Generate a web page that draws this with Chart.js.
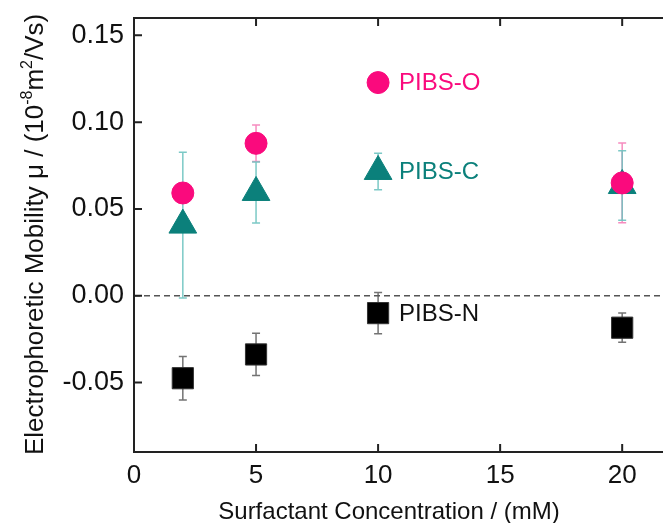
<!DOCTYPE html>
<html>
<head>
<meta charset="utf-8">
<script src="https://cdn.jsdelivr.net/npm/chart.js@4.4.1/dist/chart.umd.min.js"></script>
<style>
  html, body { margin: 0; padding: 0; background: #fff; overflow: hidden; }
  canvas { display: block; }
</style>
</head>
<body>
<canvas id="c" width="688" height="523"></canvas>
<script>
// ─── Data ─────────────────────────────────────────────────────────
const conc   = [2, 5, 10, 20];               // surfactant concentration (mM)
const pibsO  = [0.0592, 0.0878, 0.1228, 0.065];
const pibsOErr = [0.004, 0.0105, 0.003, 0.023];
const pibsC  = [0.0407, 0.0595, 0.0716, 0.0635];
const pibsCErr = [0.042, 0.0176, 0.0105, 0.020];
const pibsN  = [-0.0475, -0.0338, -0.010, -0.0184];
const pibsNErr = [0.0125, 0.0122, 0.0119, 0.0084];
const xTicks = [0, 5, 10, 15, 20];
const yTicks = [-0.05, 0.00, 0.05, 0.10, 0.15];
const seriesNames = ['PIBS-O', 'PIBS-C', 'PIBS-N'];

const FONT = '"Liberation Sans", Arial, sans-serif';
const PINK = '#fa0a7d', TEAL = '#0b807b', BLACK = '#000000';

const pts = (ys, errs) => conc.map((x, i) => ({ x, y: ys[i], e: errs[i] }));

// ─── Frame, inward ticks, zero line, error bars, labels ──────────
const decor = {
  id: 'decor',
  beforeDatasetsDraw(chart) {
    const { ctx, chartArea: a, scales: { x, y } } = chart;
    ctx.save();
    // dashed zero line
    ctx.strokeStyle = '#555';
    ctx.lineWidth = 1.5;
    ctx.setLineDash([6, 4]);
    ctx.beginPath();
    ctx.moveTo(a.left, y.getPixelForValue(0));
    ctx.lineTo(a.right, y.getPixelForValue(0));
    ctx.stroke();
    ctx.setLineDash([]);
    // error bars under markers
    chart.data.datasets.forEach(ds => {
      ctx.strokeStyle = ds.errColor;
      ctx.lineWidth = 1.5;
      ds.data.forEach(p => {
        const px = x.getPixelForValue(p.x);
        const top = y.getPixelForValue(p.y + p.e);
        const bot = y.getPixelForValue(p.y - p.e);
        ctx.beginPath();
        ctx.moveTo(px, top); ctx.lineTo(px, bot);
        ctx.moveTo(px - 4, top); ctx.lineTo(px + 4, top);
        ctx.moveTo(px - 4, bot); ctx.lineTo(px + 4, bot);
        ctx.stroke();
      });
    });
    ctx.restore();
  },
  afterDatasetsDraw(chart) {
    const { ctx, chartArea: a, scales: { x, y } } = chart;
    ctx.save();
    // frame
    ctx.strokeStyle = '#222';
    ctx.lineWidth = 2;
    ctx.strokeRect(a.left, a.top, a.right - a.left, a.bottom - a.top);
    // inward ticks on all four sides
    ctx.beginPath();
    xTicks.forEach(v => {
      const px = x.getPixelForValue(v);
      ctx.moveTo(px, a.bottom); ctx.lineTo(px, a.bottom - 8);
      ctx.moveTo(px, a.top); ctx.lineTo(px, a.top + 8);
    });
    yTicks.forEach(v => {
      const py = y.getPixelForValue(v);
      ctx.moveTo(a.left, py); ctx.lineTo(a.left + 8, py);
      ctx.moveTo(a.right, py); ctx.lineTo(a.right - 8, py);
    });
    ctx.stroke();

    // series labels next to the 10 mM point
    ctx.font = '24px ' + FONT;
    ctx.textBaseline = 'middle';
    ctx.textAlign = 'left';
    chart.data.datasets.forEach(ds => {
      const p = ds.data[2];
      ctx.fillStyle = ds.labelColor;
      ctx.fillText(ds.label, x.getPixelForValue(p.x) + 21, y.getPixelForValue(p.y) + 1);
    });

    // x axis title
    ctx.fillStyle = '#111';
    ctx.textAlign = 'center';
    ctx.textBaseline = 'alphabetic';
    ctx.fillText('Surfactant Concentration / (mM)', 389, 519);

    // y axis title with superscripts
    ctx.translate(43, 455);
    ctx.rotate(-Math.PI / 2);
    ctx.textAlign = 'left';
    const big = '26px ' + FONT, small = '16px ' + FONT;
    const parts = [
      ['Electrophoretic Mobility \u03bc / (10', big, 0],
      ['-8', small, -11],
      ['m', big, 0],
      ['2', small, -11],
      ['/Vs)', big, 0],
    ];
    let cx = 0;
    parts.forEach(([txt, f, dy]) => {
      ctx.font = f;
      ctx.fillText(txt, cx, dy);
      cx += ctx.measureText(txt).width;
    });
    ctx.restore();
  }
};

new Chart(document.getElementById('c'), {
  type: 'scatter',
  data: {
    datasets: [
      {
        label: seriesNames[0],
        data: pts(pibsO, pibsOErr),
        pointStyle: 'circle',
        pointRadius: 11,
        backgroundColor: PINK,
        borderColor: PINK,
        borderWidth: 1,
        errColor: 'rgba(245,120,180,0.85)',
        labelColor: PINK,
      },
      {
        label: seriesNames[1],
        data: pts(pibsC, pibsCErr),
        pointStyle: 'triangle',
        pointRadius: 16,
        backgroundColor: TEAL,
        borderColor: TEAL,
        borderWidth: 1,
        errColor: 'rgba(110,195,192,0.9)',
        labelColor: TEAL,
      },
      {
        label: seriesNames[2],
        data: pts(pibsN, pibsNErr),
        pointStyle: 'rect',
        pointRadius: 15,
        backgroundColor: BLACK,
        borderColor: '#333',
        borderWidth: 1,
        errColor: 'rgba(90,90,90,0.85)',
        labelColor: '#111',
      },
    ],
  },
  options: {
    responsive: false,
    animation: false,
    layout: { padding: { left: 0, top: 18, right: 0, bottom: 0 } },
    plugins: { legend: { display: false }, tooltip: { enabled: false } },
    elements: { point: { hoverRadius: 0 } },
    scales: {
      x: {
        type: 'linear',
        min: 0,
        max: 22,
        afterFit: s => { s.height = 71; s.paddingLeft = 0; s.paddingRight = 0; },
        afterBuildTicks: s => { s.ticks = xTicks.map(v => ({ value: v })); },
        grid: { display: false, drawTicks: false },
        border: { display: false },
        ticks: {
          color: '#111',
          padding: 8,
          maxRotation: 0,
          font: { size: 26, family: FONT },
          callback: v => String(v),
        },
      },
      y: {
        type: 'linear',
        min: -0.09,
        max: 0.16,
        afterFit: s => { s.width = 134; s.paddingTop = 0; s.paddingBottom = 0; },
        afterBuildTicks: s => { s.ticks = yTicks.map(v => ({ value: v })); },
        grid: { display: false, drawTicks: false },
        border: { display: false },
        ticks: {
          color: '#111',
          padding: 10,
          font: { size: 27, family: FONT },
          callback: v => v.toFixed(2),
        },
      },
    },
  },
  plugins: [decor],
});
</script>
</body>
</html>
